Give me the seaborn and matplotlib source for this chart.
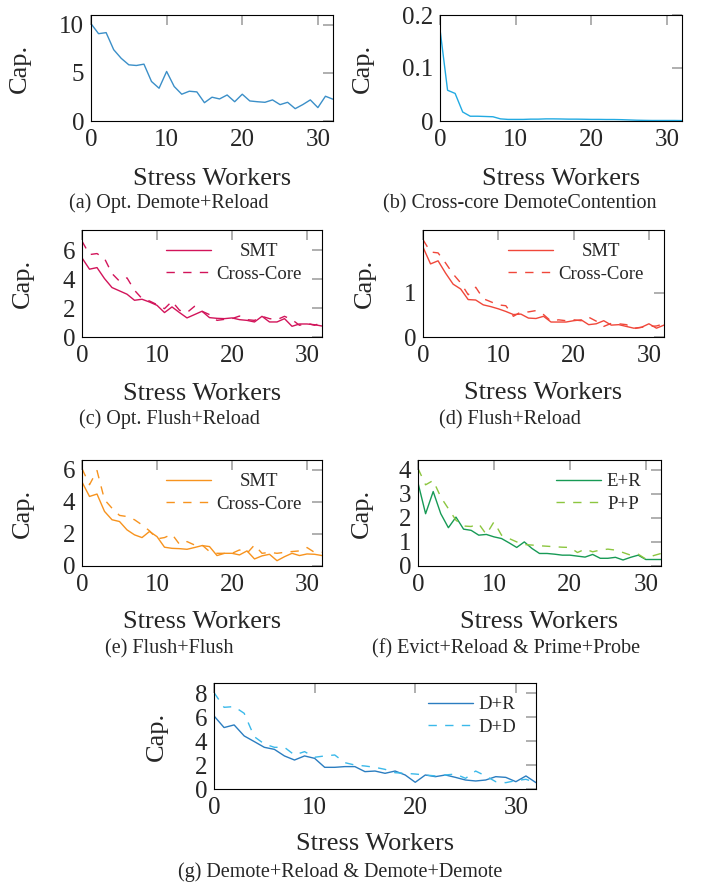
import matplotlib
matplotlib.use('Agg')
import matplotlib.pyplot as plt
import seaborn as sns
from matplotlib.ticker import FuncFormatter

# DATA

workers = list(range(33))

opt_demote_reload = [10.1, 9.06, 9.17, 7.4, 6.5, 5.83, 5.76, 5.9, 4.1, 3.4, 5.14, 3.58, 2.78,
                     3.09, 3.02, 1.9, 2.47, 2.29, 2.7, 2.0, 2.78, 2.08, 2.0, 1.94, 2.19, 1.7,
                     1.94, 1.28, 1.7, 2.19, 1.39, 2.57, 2.26]

demote_contention = [0.173, 0.058, 0.052, 0.017, 0.009, 0.009, 0.0085, 0.008, 0.004, 0.003,
                     0.003, 0.003, 0.0035, 0.0035, 0.004, 0.004, 0.0038, 0.0035, 0.0035, 0.0033,
                     0.003, 0.003, 0.0028, 0.0028, 0.0025, 0.002, 0.0015, 0.0012, 0.001, 0.001,
                     0.001, 0.001, 0.0008]

opt_fr_smt = [5.47, 4.69, 4.8, 4.04, 3.42, 3.19, 2.96, 2.54, 2.61, 2.42, 2.19, 1.69, 2.08, 1.69,
              1.32, 1.55, 1.78, 1.34, 1.29, 1.27, 1.32, 1.2, 1.15, 1.04, 1.43, 1.04, 1.04, 1.27,
              0.74, 0.9, 0.9, 0.85, 0.76]
opt_fr_cross = [6.63, 5.7, 5.77, 5.43, 4.39, 3.86, 4.09, 3.23, 2.66, 2.49, 2.24, 1.96, 2.47, 1.85,
                1.69, 2.12, 1.78, 1.55, 1.15, 1.22, 1.27, 1.45, 1.2, 1.15, 1.43, 1.27, 1.2, 1.43,
                1.2, 0.81, 0.95, 0.81, 0.99]

fr_smt = [2.04, 1.66, 1.73, 1.45, 1.2, 1.09, 0.85, 0.84, 0.73, 0.69, 0.64, 0.58, 0.51, 0.52, 0.43,
          0.42, 0.47, 0.34, 0.34, 0.34, 0.37, 0.39, 0.28, 0.3, 0.37, 0.27, 0.28, 0.24, 0.2, 0.22,
          0.3, 0.2, 0.27]
fr_cross = [2.21, 1.93, 1.91, 1.68, 1.43, 1.23, 0.96, 1.13, 0.87, 0.8, 0.73, 0.71, 0.47, 0.57,
            0.57, 0.6, 0.51, 0.36, 0.39, 0.37, 0.39, 0.37, 0.45, 0.36, 0.24, 0.31, 0.3, 0.28,
            0.19, 0.22, 0.24, 0.25, 0.3]

ff_smt = [5.23, 4.33, 4.48, 3.4, 2.88, 2.77, 2.25, 1.94, 1.77, 2.15, 1.83, 1.17, 1.1, 1.08, 1.04,
          1.15, 1.27, 1.21, 0.65, 0.79, 0.79, 0.69, 0.94, 0.44, 0.63, 0.73, 0.33, 0.58, 0.79,
          0.65, 0.75, 0.73, 0.65]
ff_cross = [6.06, 5.06, 5.94, 4.13, 3.6, 3.15, 3.08, 2.88, 2.56, 2.19, 1.69, 1.77, 1.98, 1.35,
            1.52, 1.31, 1.31, 0.9, 0.79, 0.79, 0.79, 1.0, 0.79, 1.31, 0.79, 0.85, 0.79, 0.85,
            0.9, 0.94, 1.15, 0.85, 0.85]

evict_reload = [3.45, 2.17, 3.09, 2.17, 1.59, 2.03, 1.53, 1.48, 1.28, 1.31, 1.21, 1.14, 0.96, 0.77,
                1.0, 0.73, 0.52, 0.52, 0.49, 0.45, 0.45, 0.41, 0.37, 0.48, 0.32, 0.32, 0.36, 0.25,
                0.36, 0.45, 0.27, 0.27, 0.27]
prime_probe = [4.05, 3.37, 3.55, 2.86, 2.38, 1.9, 1.66, 1.64, 1.75, 1.31, 1.83, 1.28, 1.14, 1.0,
               0.89, 0.87, 0.84, 0.82, 0.8, 0.78, 0.77, 0.56, 0.7, 0.59, 0.66, 0.7, 0.66, 0.56,
               0.45, 0.49, 0.29, 0.43, 0.52]

demote_reload = [6.1, 5.13, 5.35, 4.43, 3.96, 3.48, 3.31, 2.76, 2.42, 2.76, 2.56, 1.81, 1.81, 1.87,
                 1.87, 1.45, 1.5, 1.31, 1.5, 1.17, 0.56, 1.17, 1.03, 1.17, 0.97, 0.75, 0.67, 0.75,
                 1.03, 0.97, 0.61, 1.09, 0.53]
demote_demote = [8.05, 6.82, 6.88, 6.32, 4.37, 3.76, 3.48, 3.48, 2.84, 3.12, 2.65, 2.76, 2.84, 2.2,
                 2.0, 1.92, 1.81, 1.64, 1.36, 1.31, 1.25, 1.17, 1.09, 1.17, 1.25, 0.89, 1.5, 1.09,
                 0.61, 0.53, 0.7, 0.81, 0.53]

# PLOT

sns.set_style('white')
plt.rcParams['font.family'] = ['Liberation Serif', 'DejaVu Serif']

W, H = 705, 886
fig = plt.figure(figsize=(W / 100, H / 100), dpi=100)
DASH = (0, (6, 6))

# axes box in px (l, t, r, b), ylabel right edge, xlabel baseline, caption (x, baseline, text)
panels = [
    dict(box=(91, 15, 333, 121), yticks=[0, 5, 10], ylim=11, ylab_x=31, xlab_y=185,
         cap=(169, 208, '(a) Opt. Demote+Reload'),
         series=[(opt_demote_reload, None, '#3b8fc8', '-')]),
    dict(box=(440, 15, 682, 121), yticks=[0, 0.1, 0.2], ylim=0.2, ylab_x=374, xlab_y=185,
         cap=(520, 208, '(b) Cross-core DemoteContention'),
         series=[(demote_contention, None, '#22aae2', '-')]),
    dict(box=(82, 230, 322, 337), yticks=[0, 2, 4, 6], ylim=7.4, ylab_x=34, xlab_y=400,
         cap=(169, 424, '(c) Opt. Flush+Reload'),
         series=[(opt_fr_smt, 'SMT', '#d2145a', '-'), (opt_fr_cross, 'Cross-Core', '#d2145a', DASH)]),
    dict(box=(423, 230, 664, 337), yticks=[0, 1], ylim=2.43, ylab_x=376, xlab_y=399,
         cap=(510, 424, '(d) Flush+Reload'),
         series=[(fr_smt, 'SMT', '#f0473a', '-'), (fr_cross, 'Cross-Core', '#f0473a', DASH)]),
    dict(box=(82, 460, 322, 566), yticks=[0, 2, 4, 6], ylim=6.6, ylab_x=34, xlab_y=628,
         cap=(169, 653, '(e) Flush+Flush'),
         series=[(ff_smt, 'SMT', '#f7931e', '-'), (ff_cross, 'Cross-Core', '#f7931e', DASH)]),
    dict(box=(418, 460, 661, 566), yticks=[0, 1, 2, 3, 4], ylim=4.4, ylab_x=373, xlab_y=628,
         cap=(506, 653, '(f) Evict+Reload & Prime+Probe'),
         series=[(evict_reload, 'E+R', '#179a55', '-'), (prime_probe, 'P+P', '#8cc63f', DASH)]),
    dict(box=(214, 683, 536, 789), yticks=[0, 2, 4, 6, 8], ylim=8.85, ylab_x=168, xlab_y=850,
         cap=(340, 877, '(g) Demote+Reload & Demote+Demote'),
         series=[(demote_reload, 'D+R', '#2b7dc0', '-'), (demote_demote, 'D+D', '#3bb9ea', DASH)]),
]

renderer = fig.canvas.get_renderer()

for p in panels:
    l, t, r, b = p['box']
    ax = fig.add_axes([l / W, 1 - b / H, (r - l) / W, (b - t) / H])
    for vals, lab, col, ls in p['series']:
        sns.lineplot(x=workers, y=vals, ax=ax, color=col, linewidth=1.0, linestyle=ls,
                     label=lab, legend=False)
    ax.set_xlim(0, 32)
    ax.set_ylim(0, p['ylim'])
    ax.set_xticks([0, 10, 20, 30])
    ax.set_yticks(p['yticks'])
    ax.yaxis.set_major_formatter(FuncFormatter(lambda v, pos: '{:g}'.format(v)))
    ax.tick_params(direction='in', length=7, width=1.1, color='#9a9a9a', top=True, right=True,
                   labelsize=18)
    ax.tick_params(axis='x', pad=6)
    ax.tick_params(axis='y', pad=5)
    for s in ax.spines.values():
        s.set_color('black')
        s.set_linewidth(0.8)

    ax.set_xlabel('Stress Workers', fontsize=19)
    ax.xaxis.set_label_coords((l + r) / 2 / W, 1 - p['xlab_y'] / H, transform=fig.transFigure)
    ax.xaxis.label.set_va('baseline')
    ax.set_ylabel('Cap.', fontsize=19)
    ax.yaxis.set_label_coords(p['ylab_x'] / W, 1 - (t + b) / 2 / H, transform=fig.transFigure)

    cx, cy, txt = p['cap']
    fig.text(cx / W, 1 - cy / H, txt, ha='center', va='baseline', fontsize=14.5)

    if p['series'][0][1] is not None:
        w, h = r - l, b - t
        leg = ax.legend(loc='upper right', bbox_to_anchor=(1 - 20 / w, 1 - 13 / h),
                        frameon=False, fontsize=13.5, handlelength=2.4, handletextpad=0.3,
                        labelspacing=0.3, borderaxespad=0, borderpad=0)
        # pgfplots centres legend entries, shift the short ones
        texts = leg.get_texts()
        widths = [tx.get_window_extent(renderer).width for tx in texts]
        for tx, tw in zip(texts, widths):
            tx.set_x((max(widths) - tw) / 2)

fig.savefig('out.png', dpi=100)
